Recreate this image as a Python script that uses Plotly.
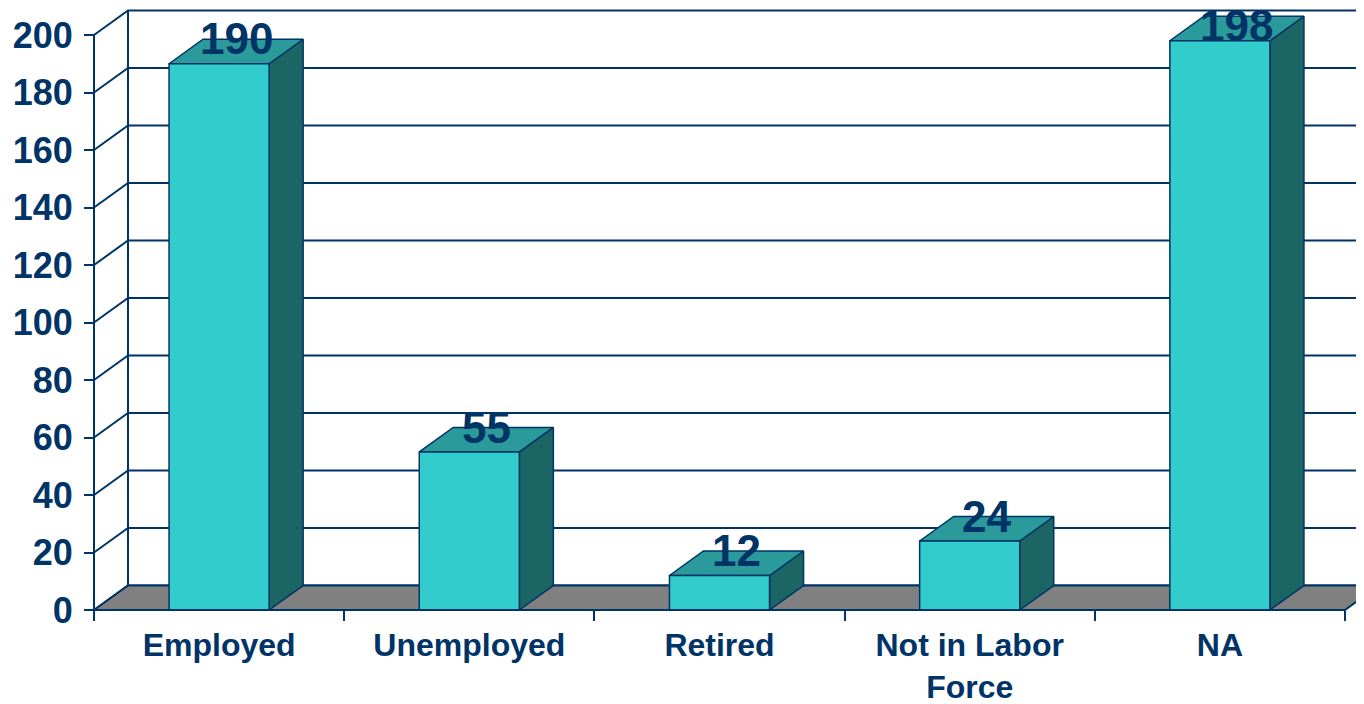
import plotly.graph_objects as go

# ---- data ----
categories = ["Employed", "Unemployed", "Retired", "Not in Labor<br>Force", "NA"]
values = [190, 55, 12, 24, 198]
y_ticks = [0, 20, 40, 60, 80, 100, 120, 140, 160, 180, 200]

# ---- style / geometry ----
NAVY = "#003366"
FRONT = "#33CCCC"
TOP = "#2A9A9A"
SIDE = "#1B6565"
FLOOR = "#808080"
FONT = "Liberation Sans"
LABEL_SIZE = 44

OFF = 8                 # page body margin
W, H = 1364 - OFF, 704 - OFF
cat_px = 250.2          # pixels per category
x0_px = 94 - OFF        # front-left axis pixel
y0_px = 610 - OFF       # zero line pixel
val_px = 2.875          # pixels per value unit
bar_w = 0.4             # bar width (category units)
dxp, dyp = 34, 24.5     # depth offset in pixels
dx = dxp / cat_px
dy = dyp / val_px

x_range = [(0 - x0_px) / cat_px - 0.5, (W - x0_px) / cat_px - 0.5]
y_range = [(y0_px - H) / val_px, (y0_px - 0) / val_px]

n = len(categories)
xl, xr = -0.5, n - 0.5
ymax = y_ticks[-1]

fig = go.Figure()

def poly(xs, ys, fill, lw=1.5, lc=NAVY):
    fig.add_trace(go.Scatter(x=xs + [xs[0]], y=ys + [ys[0]], mode="lines",
                             fill="toself", fillcolor=fill,
                             line=dict(color=lc, width=lw),
                             hoverinfo="skip", showlegend=False))

def line(xs, ys, lw=2):
    fig.add_trace(go.Scatter(x=xs, y=ys, mode="lines",
                             line=dict(color=NAVY, width=lw),
                             hoverinfo="skip", showlegend=False))

# back wall gridlines and left wall diagonals
for t in y_ticks:
    line([xl, xl + dx, xr + dx], [t, t + dy, t + dy])
# back-left wall edge
line([xl + dx, xl + dx], [dy, ymax + dy])
# front axis line
line([xl, xl], [0, ymax])

# floor
poly([xl, xr, xr + dx, xl + dx], [0, 0, dy, dy], FLOOR, lw=2)

# bars
for i, v in enumerate(values):
    a, b = i - bar_w / 2, i + bar_w / 2
    poly([b, b + dx, b + dx, b], [0, dy, v + dy, v], SIDE)
    poly([a, b, b + dx, a + dx], [v, v, v + dy, v + dy], TOP)
    poly([a, b, b, a], [0, 0, v, v], FRONT)

# front floor edge
line([xl, xr], [0, 0], lw=2)

# data labels (kept inside the chart area, like the original)
label_limit = y_range[1] - LABEL_SIZE / val_px
for i, v in enumerate(values):
    fig.add_annotation(x=i + dx / 2, y=min(v - 0.6, label_limit), text=str(v),
                       showarrow=False, xanchor="center", yanchor="bottom",
                       font=dict(family=FONT, size=LABEL_SIZE, color=NAVY,
                                 weight="bold"))

fig.update_layout(
    width=W, height=H,
    margin=dict(l=0, r=0, t=0, b=0),
    paper_bgcolor="white", plot_bgcolor="white",
    xaxis=dict(range=x_range, anchor="free", position=(H - y0_px) / H,
               tickmode="array", tickvals=list(range(n)), ticktext=categories,
               ticks="", showgrid=False, zeroline=False, showline=False,
               tickfont=dict(family=FONT, size=32, color=NAVY, weight="bold"),
               ticklabelstandoff=13, fixedrange=True),
    xaxis2=dict(range=x_range, overlaying="x", anchor="free",
                position=(H - y0_px) / H,
                tickmode="array", tickvals=[k - 0.5 for k in range(n + 1)],
                ticks="outside", ticklen=10, tickwidth=2, tickcolor=NAVY,
                showticklabels=False, showgrid=False, zeroline=False,
                showline=False),
    yaxis=dict(range=y_range, anchor="free", position=x0_px / W,
               tickmode="array", tickvals=y_ticks,
               ticks="outside", ticklen=10, tickwidth=2, tickcolor=NAVY,
               showgrid=False, zeroline=False, showline=False,
               tickfont=dict(family=FONT, size=36, color=NAVY, weight="bold"),
               ticklabelstandoff=4, fixedrange=True),
)
# dummy trace to activate xaxis2
fig.add_trace(go.Scatter(x=[x_range[0]], y=[y_range[0]], xaxis="x2",
                         mode="markers", marker=dict(opacity=0),
                         hoverinfo="skip", showlegend=False))

fig.write_html("out.html")
